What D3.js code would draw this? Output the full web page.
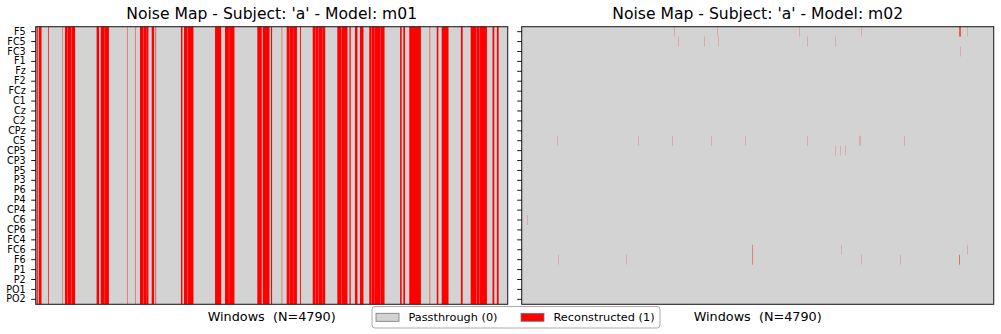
<!DOCTYPE html>
<html>
<head>
<meta charset="utf-8">
<script src="https://cdn.jsdelivr.net/npm/d3@7"></script>
<style>
	body { margin: 0; background: #fff; }
	svg { display: block; font-family: 'DejaVu Sans', sans-serif; }
	.xlabel { white-space: pre; }
</style>
</head>
<body>
<svg id="chart" width="1001" height="334"></svg>
<script>
var channels = ['F5', 'FC5', 'FC3', 'F1', 'Fz', 'F2', 'FCz', 'C1', 'Cz', 'C2', 'CPz', 'C5', 'CP5', 'CP3',
	'P5', 'P3', 'P6', 'P4', 'CP4', 'C6', 'CP6', 'FC4', 'FC6', 'F6', 'P1', 'P2', 'PO1', 'PO2'];
var nWindows = 4790;
var models = ['m01', 'm02'];
var subject = 'a';

// m01: runs of windows [start, end] reconstructed on every channel
var m01Runs = [
	[10, 20], [31, 58], [128, 134], [269, 272], [297, 318], [321, 360], [363, 399],
	[618, 642], [660, 700], [703, 742], [928, 931], [1009, 1012], [1058, 1090], [1093, 1120],
	[1122, 1143], [1177, 1200], [1216, 1221], [1474, 1488], [1505, 1540], [1543, 1600],
	[1820, 1881], [1921, 1960], [1963, 2016], [2249, 2293], [2304, 2372], [2388, 2398],
	[2497, 2500], [2547, 2575], [2578, 2610], [2613, 2650], [2683, 2691], [2811, 2840],
	[2843, 2870], [2873, 2905], [2908, 2937], [3061, 3100], [3103, 3163], [3184, 3196],
	[3240, 3264], [3291, 3325], [3385, 3405], [3408, 3440], [3443, 3500], [3503, 3539],
	[3698, 3713], [3731, 3747], [3791, 3908], [3998, 4002], [4070, 4085], [4120, 4188],
	[4315, 4332], [4414, 4470], [4473, 4500], [4503, 4578], [4636, 4653], [4680, 4697]
];

// m02: [channel, start, end] reconstructed cells
var m02Cells = [
	['F5', 1549, 1550], ['F5', 1985, 1986], ['F5', 2817, 2818], ['F5', 3446, 3447],
	['F5', 4442, 4453], ['F5', 4522, 4523],
	['FC5', 1589, 1590], ['FC5', 1853, 1854], ['FC5', 1995, 1996], ['FC5', 2898, 2899],
	['FC5', 3182, 3183],
	['FC3', 4451, 4452],
	['C5', 361, 362], ['C5', 1183, 1184], ['C5', 1528, 1529], ['C5', 1924, 1925],
	['C5', 2269, 2270], ['C5', 2898, 2899], ['C5', 3425, 3426], ['C5', 3433, 3434],
	['C5', 3883, 3884],
	['CP5', 3182, 3183], ['CP5', 3233, 3234], ['CP5', 3284, 3285],
	['C6', 57, 58],
	['FC6', 2343, 2346], ['FC6', 3243, 3244], ['FC6', 4522, 4523],
	['F6', 371, 372], ['F6', 1061, 1062], ['F6', 2343, 2346], ['F6', 3446, 3447],
	['F6', 3842, 3843], ['F6', 4440, 4444]
];

var legendItems = [
	{label: 'Passthrough (0)', color: '#d3d3d3'},
	{label: 'Reconstructed (1)', color: '#ff0000'}
];

var svg = d3.select('#chart');
var plotTop = 26.7, plotH = 277.6, plotW = 472;
var panelX = [35.7, 521.7];

var y = d3.scaleBand()
	.domain(channels)
	.range([plotTop, plotTop + plotH])
	.paddingInner(0).paddingOuter(0);

function drawPanel(i) {
	var x0 = panelX[i];
	var x = d3.scaleLinear().domain([0, nWindows]).range([x0, x0 + plotW]);
	var g = svg.append('g').attr('class', 'panel');

	// passthrough background
	g.append('rect')
		.attr('x', x0).attr('y', plotTop)
		.attr('width', plotW).attr('height', plotH)
		.attr('fill', '#d3d3d3');

	if (i === 0) {
		g.selectAll('.run')
			.data(m01Runs)
			.enter().append('rect')
			.attr('class', 'run')
			.attr('x', function (d) { return x(d[0]); })
			.attr('width', function (d) { return x(d[1] + 1) - x(d[0]); })
			.attr('y', y(channels[0]))
			.attr('height', y(channels[channels.length - 1]) + y.bandwidth() - y(channels[0]))
			.attr('fill', '#ff0000');
	} else {
		g.selectAll('.cell')
			.data(m02Cells)
			.enter().append('rect')
			.attr('class', 'cell')
			.attr('x', function (d) { return x(d[1]); })
			.attr('width', function (d) { return x(d[2] + 1) - x(d[1]); })
			.attr('y', function (d) { return y(d[0]); })
			.attr('height', y.bandwidth())
			.attr('fill', '#ff0000');
	}

	var axis = d3.axisLeft(y).tickSize(4.5).tickPadding(5.5);
	if (i === 1) {
		axis.tickFormat('');
	}
	var ax = svg.append('g')
		.attr('transform', 'translate(' + x0 + ',0)')
		.call(axis);
	ax.select('.domain').remove();
	ax.selectAll('line').attr('stroke', '#000').attr('stroke-width', 0.9);
	ax.selectAll('text')
		.attr('fill', '#000')
		.style('font-family', 'DejaVu Sans')
		.style('font-size', '9.6px');

	// frame
	g.append('rect')
		.attr('x', x0).attr('y', plotTop)
		.attr('width', plotW).attr('height', plotH)
		.attr('fill', 'none')
		.attr('stroke', '#262626')
		.attr('stroke-width', 1.1);

	svg.append('text')
		.attr('x', x0 + plotW / 2)
		.attr('y', 18.5)
		.attr('text-anchor', 'middle')
		.style('font-size', '15.6px')
		.text('Noise Map - Subject: \'' + subject + '\' - Model: ' + models[i]);

	svg.append('text')
		.attr('class', 'xlabel')
		.attr('x', x0 + plotW / 2)
		.attr('y', 320.5)
		.attr('text-anchor', 'middle')
		.style('font-size', '12.8px')
		.text('Windows  (N=' + nWindows + ')');
}

drawPanel(0);
drawPanel(1);

// legend
var legend = svg.append('g').attr('class', 'legend');
legend.append('rect')
	.attr('x', 372).attr('y', 306.5)
	.attr('width', 288).attr('height', 21.5)
	.attr('rx', 3)
	.attr('fill', '#fff')
	.attr('stroke', '#aaa')
	.attr('stroke-width', 1);

var itemX = [376, 521];
legendItems.forEach(function (d, k) {
	legend.append('rect')
		.attr('x', itemX[k]).attr('y', 313.3)
		.attr('width', 23).attr('height', 8)
		.attr('fill', d.color)
		.attr('stroke', '#777')
		.attr('stroke-width', 0.8);
	legend.append('text')
		.attr('x', itemX[k] + 32.5)
		.attr('y', 321)
		.style('font-size', '11.3px')
		.text(d.label);
});
</script>
</body>
</html>
